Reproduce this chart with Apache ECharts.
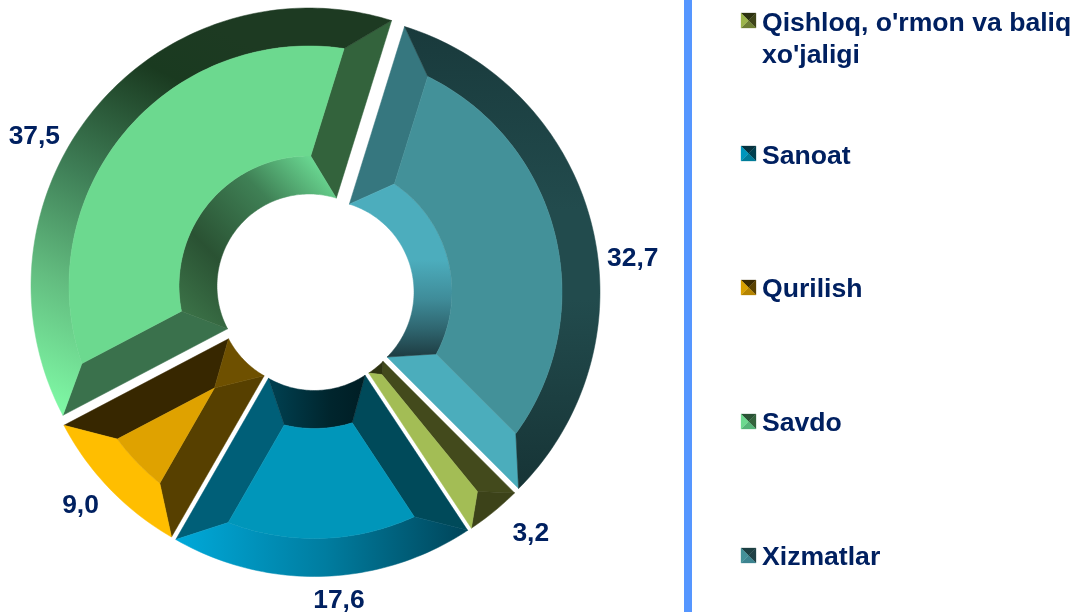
<!DOCTYPE html>
<html><head><meta charset="utf-8">
<style>html,body{margin:0;padding:0;background:#fff}#c{width:1078px;height:612px}</style>
<script src="https://cdn.jsdelivr.net/npm/echarts@6/dist/echarts.min.js"></script>
</head><body><div id="c"></div>
<script>
const categories = ["Qishloq, o'rmon va baliq xo'jaligi", "Sanoat", "Qurilish", "Savdo", "Xizmatlar"];
const values = [3.2, 17.6, 9.0, 37.5, 32.7];
const wrapped = {"Qishloq, o'rmon va baliq xo'jaligi": "Qishloq, o'rmon va baliq\nxo'jaligi"};

// ---- presentation only ----
const NAVY = '#002060', FONT = 'bold 26.4px "Liberation Sans", Arial, sans-serif';
const R = 278, FACE_OUT = 240, FACE_IN = 130, HOLE = 92, BEVEL = 37;
const sliceShift = [[4, 1.3], [0.3, 3.5], [-4, 1], [-5, -9], [8, -3]];
const labelAnchor = [[321, 0.7], [305, 11.2], [313, 25.9], [322.5, 45.8], [321, 85.6]];
const legendTop = [8, 141, 274, 408, 542];
const markerTop = [13, 146, 280, 414, 548];
const grad = (x, y, x2, y2, stops) => ({type: 'linear', x, y, x2, y2, global: true,
  colorStops: stops.map(s => ({offset: s[0], color: s[1]}))});
const facets = [
  {face: '#a3bd55', outer: '#3c4219', inner: '#2e3311', start: '#434a1c', end: '#a3bd55'},
  {face: '#0096ba', start: '#004a5a', end: '#005f78',
   outer: grad(180, 0, 470, 0, [[0, '#00a8d8'], [.5, '#007da0'], [1, '#004458']]),
   inner: grad(275, 0, 360, 0, [[0, '#003e4e'], [.65, '#00252d'], [1, '#001f26']])},
  {face: '#dfa200', outer: '#ffbe00', inner: '#6e5000', start: '#574000', end: '#372700'},
  {face: '#6cd98f', start: '#3a714c', end: '#33633c',
   outer: grad(50, 420, 240, 40, [[0, '#82ffa9'], [.3, '#63bd80'], [.55, '#3f7f57'], [.85, '#1a3a20'], [1, '#1d3a22']]),
   inner: grad(195, 320, 335, 185, [[0, '#3a7046'], [.3, '#2a5233'], [.7, '#3f8055'], [1, '#68d48f']])},
  {face: '#439199', start: '#36777f', end: '#4badbc',
   outer: grad(0, 30, 0, 480, [[0, '#193a3c'], [.4, '#224b4d'], [.6, '#224b4d'], [1, '#173537']]),
   inner: grad(0, 260, 0, 358, [[0, '#4cadbd'], [.4, '#3f8c99'], [.7, '#2f6670'], [1, '#1d3a40']])}
];
const markerColors = [
  ['#2c3110', '#3e4419', '#6d7f33', '#9cb54a'],
  ['#07323e', '#00404f', '#007c99', '#0096bc'],
  ['#3a2a00', '#5a4200', '#b58400', '#d8a000'],
  ['#2a5235', '#33633c', '#55b578', '#6cd98f'],
  ['#1d3f42', '#1f4045', '#3c8490', '#439199']
];

// cumulative shares drive the angle axis
const starts = values.map((v, i) => values.slice(0, i).reduce((a, b) => a + b, 0));

function sliceRenderer(i) {
  return function (params, api) {
    const a0 = api.value(1), a1 = api.value(2), mid = (a0 + a1) / 2;
    const sx = sliceShift[i][0], sy = sliceShift[i][1];
    const p = (r, a) => { const c = api.coord([r, a]); return [c[0] + sx, c[1] + sy]; };
    const dl = (w, r) => Math.asin(Math.min(1, w / r)) / (2 * Math.PI) * 100;
    const arc = (r, from, to) => {
      const n = Math.max(2, Math.ceil(Math.abs(to - from) * 3)), pts = [];
      for (let k = 0; k <= n; k++) pts.push(p(r, from + (to - from) * k / n));
      return pts;
    };
    const f = facets[i];
    const poly = (pts, fill) => ({type: 'polygon', shape: {points: pts},
      style: {fill, stroke: fill, lineWidth: 0.5}});
    const kids = [];
    if (i === 0) {
      // narrow wedge: one-sided bevel meeting the bisector
      const fo = p(252, mid), fi = p(HOLE + 9, mid);
      kids.push(poly([p(R, a0), fo, fi, p(HOLE, a0)], f.start));
      kids.push(poly([...arc(R, a0, a1), fo], f.outer));
      kids.push(poly([...arc(HOLE, a0, a1), fi], f.inner));
      kids.push(poly([fi, fo, p(R, a1), p(HOLE, a1)], f.face));
    } else {
      const half = (a1 - a0) / 100 * Math.PI;
      const r0 = BEVEL / Math.sin(half);
      const d2 = dl(BEVEL, FACE_OUT);
      const fs2 = p(FACE_OUT, a0 + d2), fe2 = p(FACE_OUT, a1 - d2);
      let inPts;
      if (r0 < FACE_IN) { const d1 = dl(BEVEL, FACE_IN); inPts = arc(FACE_IN, a0 + d1, a1 - d1); }
      else inPts = [p(r0, mid)];
      const fs1 = inPts[0], fe1 = inPts[inPts.length - 1];
      kids.push(poly([p(R, a0), fs2, fs1, p(HOLE, a0)], f.start));
      kids.push(poly([p(R, a1), fe2, fe1, p(HOLE, a1)], f.end));
      kids.push(poly([...arc(R, a0, a1), ...arc(FACE_OUT, a1 - d2, a0 + d2)], f.outer));
      kids.push(poly([...inPts, ...arc(HOLE, a1, a0)], f.inner));
      kids.push(poly([...arc(FACE_OUT, a0 + d2, a1 - d2), ...inPts.slice().reverse()], f.face));
    }
    const lp = api.coord(labelAnchor[i]);
    kids.push({type: 'text', style: {text: api.value(0).toFixed(1).replace('.', ','),
      x: lp[0], y: lp[1] + 2, font: FONT, fill: NAVY, align: 'center', verticalAlign: 'middle'}});
    return {type: 'group', children: kids};
  };
}

const markerEls = [];
markerColors.forEach((c, i) => {
  const x = 741, y = markerTop[i], s = 15, cx = x + s / 2, cy = y + s / 2;
  const tri = (pts, fill) => markerEls.push({type: 'polygon', shape: {points: pts},
    style: {fill, stroke: fill, lineWidth: 0.3}, silent: true});
  tri([[x, y], [x + s, y], [cx, cy]], c[0]);
  tri([[x + s, y], [x + s, y + s], [cx, cy]], c[1]);
  tri([[x, y + s], [x + s, y + s], [cx, cy]], c[2]);
  tri([[x, y], [x, y + s], [cx, cy]], c[3]);
});

const chart = echarts.init(document.getElementById('c'), null, {renderer: 'canvas'});
chart.setOption({
  animation: false,
  backgroundColor: '#fff',
  polar: {center: [314, 295], radius: R},
  angleAxis: {type: 'value', min: 0, max: 100, startAngle: 315, clockwise: true, show: false},
  radiusAxis: {type: 'value', min: 0, max: R, show: false},
  legend: categories.map((name, i) => ({
    show: true, orient: 'vertical', left: 742, top: legendTop[i], padding: 0,
    itemWidth: 15, itemHeight: 15, selectedMode: false, data: [name],
    itemStyle: {opacity: 0},
    formatter: n => wrapped[n] || n,
    textStyle: {fontFamily: '"Liberation Sans", Arial, sans-serif', fontWeight: 'bold',
      fontSize: 26.6, color: NAVY, lineHeight: 32}
  })),
  graphic: {elements: [
    {type: 'rect', shape: {x: 684, y: 0, width: 8, height: 612}, style: {fill: '#5596ff'}, silent: true},
    ...markerEls
  ]},
  series: categories.map((name, i) => ({
    type: 'custom', name, coordinateSystem: 'polar', clip: false,
    itemStyle: {color: facets[i].face},
    encode: {radius: 0, angle: [1, 2]},
    data: [[values[i], starts[i], starts[i] + values[i]]],
    renderItem: sliceRenderer(i)
  }))
});
</script></body></html>
